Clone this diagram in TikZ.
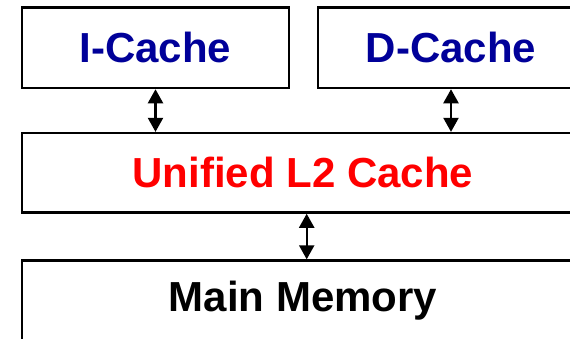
\documentclass[tikz,border=0pt]{standalone}
\usepackage{fontspec}
\setmainfont{Liberation Sans}
\usetikzlibrary{arrows.meta}
\definecolor{cachblue}{RGB}{0,0,153}
\definecolor{l2red}{RGB}{255,0,0}
\tikzset{
  blk/.style={draw=black, line width=2.4pt, fill=white, inner sep=0pt,
    font=\fontsize{42}{50}\selectfont\bfseries},
  link/.style={line width=2.2pt, {Triangle[length=14pt,width=15pt]}-{Triangle[length=14pt,width=15pt]}}
}
\begin{document}
\begin{tikzpicture}[x=1pt,y=-1pt]
\clip (0,0) rectangle (570,338);
\fill[white] (0,0) rectangle (570,338);
\node[blk, minimum width=267pt, minimum height=80.7pt, text=cachblue] (ic) at (155.5,47.7) {I-Cache};
\node[blk, minimum width=266pt, minimum height=80.7pt, text=cachblue] (dc) at (451,47.7) {D-Cache};
\node[blk, minimum width=562pt, minimum height=79.5pt, text=l2red] (l2) at (303,172.8) {Unified L2 Cache};
\node[blk, minimum width=562pt, minimum height=80pt, text=black] (mm) at (303,300.5) {Main Memory};
\draw[link] (ic.south) -- (ic.south |- l2.north);
\draw[link] (dc.south) -- (dc.south |- l2.north);
\draw[link] ([xshift=3.7pt]l2.south) -- ([xshift=3.7pt]mm.north);
\end{tikzpicture}
\end{document}
